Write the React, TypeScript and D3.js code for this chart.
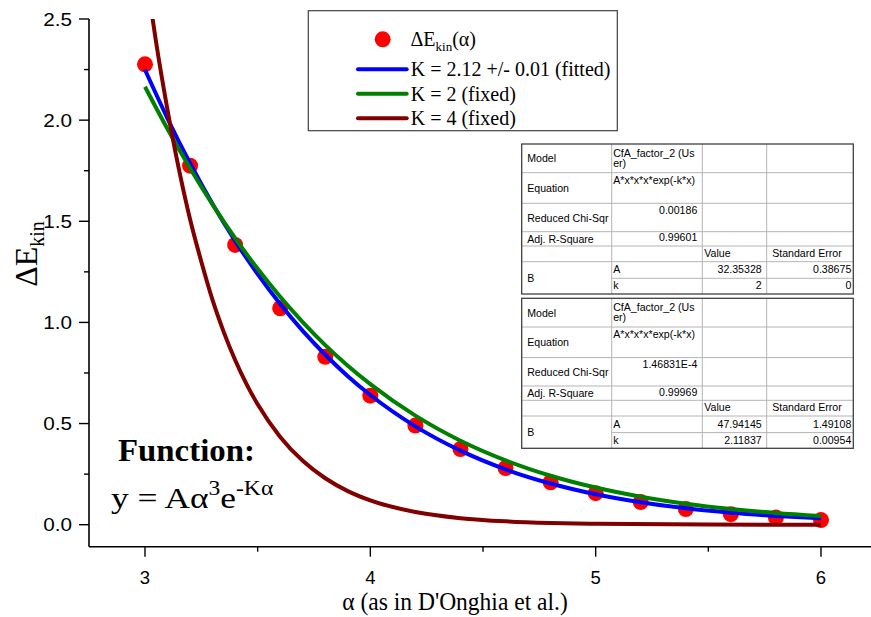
import React from "react";
import * as d3 from "d3";

// ---- data ----
const alphaPts = [3.0, 3.2, 3.4, 3.6, 3.8, 4.0, 4.2, 4.4, 4.6, 4.8, 5.0, 5.2, 5.4, 5.6, 5.8, 6.0];
const dEkin = [2.276, 1.775, 1.383, 1.07, 0.83, 0.638, 0.49, 0.374, 0.28, 0.21, 0.156, 0.112, 0.077, 0.052, 0.035, 0.023];

const curveX = [3.0, 3.1, 3.2, 3.3, 3.4, 3.5, 3.6, 3.7, 3.8, 3.9, 4.0, 4.2, 4.4, 4.6, 4.8, 5.0, 5.2, 5.4, 5.6, 5.8, 6.0];
const fitBlue = [2.249, 2.008, 1.787, 1.586, 1.403, 1.239, 1.091, 0.958, 0.84, 0.734, 0.641, 0.486, 0.366, 0.2735, 0.2035, 0.1505, 0.1109, 0.0813, 0.0593, 0.0432, 0.0313];
const fitGreen = [2.165, 1.956, 1.762, 1.582, 1.416, 1.265, 1.127, 1.002, 0.888, 0.786, 0.695, 0.539, 0.415, 0.318, 0.242, 0.1836, 0.1384, 0.1039, 0.0777, 0.0579, 0.0429];
const redX = [3.0, 3.05, 3.1, 3.15, 3.2, 3.25, 3.3, 3.35, 3.4, 3.45, 3.5, 3.6, 3.7, 3.8, 3.9, 4.0, 4.2, 4.4, 4.6, 4.8, 5.0, 5.5, 6.0];
const fitRed = [2.77, 2.38, 2.05, 1.76, 1.51, 1.3, 1.11, 0.951, 0.814, 0.696, 0.595, 0.434, 0.316, 0.2295, 0.166, 0.12, 0.0626, 0.0323, 0.0166, 0.0085, 0.0043, 0.0007, 0.0001];

const xMajorTicks = [3, 4, 5, 6];
const xMinorTicks = [3.5, 4.5, 5.5];
const yMajorTicks = [0, 0.5, 1.0, 1.5, 2.0, 2.5];
const yMinorTicks = [0.25, 0.75, 1.25, 1.75, 2.25];

const legendLabels = ["K = 2.12 +/- 0.01 (fitted)", "K = 2 (fixed)", "K = 4 (fixed)"];
const legendColors = ["#0000ff", "#008000", "#800000"];

const tableModelLines = ["CfA_factor_2 (Us", "er)"];
const tableEquation = "A*x*x*x*exp(-k*x)";
const tableChiSqr = ["0.00186", "1.46831E-4"];
const tableAdjR2 = ["0.99601", "0.99969"];
const tableAValue = ["32.35328", "47.94145"];
const tableAError = ["0.38675", "1.49108"];
const tableKValue = ["2", "2.11837"];
const tableKError = ["0", "0.00954"];

// ---- layout ----
const W = 871;
const H = 617;
const x = d3.scaleLinear().domain([3, 6]).range([145, 821]);
const y = d3.scaleLinear().domain([0, 2.5]).range([524.7, 19]);
const axisLeftX = 89;
const axisBottomY = 546.7;

const serif = "'Liberation Serif', 'Times New Roman', serif";
const sans = "'Liberation Sans', Arial, sans-serif";

function T({ x: tx, y: ty, sx = 1, children, ...rest }: any) {
  return (
    <text transform={`translate(${tx},${ty}) scale(${sx},1)`} {...rest}>
      {children}
    </text>
  );
}

function FitTable({ top, idx }: { top: number; idx: number }) {
  const cols = [521.7, 611.7, 702.3, 766.7, 853.3];
  const rows = [0, 28.7, 59.3, 87.7, 102, 117.7, 134.3, 150].map((r) => top + r);
  const fs = 10.6;
  const grid = "#b4b4b4";
  const lines: any[] = [];
  for (let i = 1; i < rows.length - 1; i++) {
    const x0 = i === 6 ? cols[1] : cols[0];
    lines.push(<line key={"h" + i} x1={x0} x2={cols[4]} y1={rows[i]} y2={rows[i]} stroke={grid} strokeWidth={1} />);
  }
  for (let j = 1; j < cols.length - 1; j++) {
    lines.push(<line key={"v" + j} x1={cols[j]} x2={cols[j]} y1={rows[0]} y2={rows[7]} stroke={grid} strokeWidth={1} />);
  }
  const mid = (a: number, b: number) => (rows[a] + rows[b]) / 2 + 4;
  const tl = cols[0] + 5.5;
  const c2 = cols[1] + 1.5;
  const r2 = cols[2] - 5;
  const r4 = cols[4] - 2;
  const txt = { fontFamily: sans, fontSize: fs, fill: "#000" } as any;
  return (
    <g>
      <rect x={cols[0]} y={rows[0]} width={cols[4] - cols[0]} height={rows[7] - rows[0]} fill="#fff" />
      {lines}
      <rect x={cols[0]} y={rows[0]} width={cols[4] - cols[0]} height={rows[7] - rows[0]} fill="none" stroke="#404040" strokeWidth={1.3} />
      <text x={tl} y={mid(0, 1)} {...txt}>Model</text>
      <text x={c2} y={rows[0] + 12.5} {...txt}>{tableModelLines[0]}</text>
      <text x={c2} y={rows[0] + 23} {...txt}>{tableModelLines[1]}</text>
      <text x={tl} y={mid(1, 2)} {...txt}>Equation</text>
      <text x={c2} y={rows[1] + 11.3} {...txt}>{tableEquation}</text>
      <text x={tl} y={mid(2, 3)} {...txt}>Reduced Chi-Sqr</text>
      <text x={r2} y={rows[2] + 10.5} textAnchor="end" {...txt}>{tableChiSqr[idx]}</text>
      <text x={tl} y={mid(3, 4)} {...txt}>Adj. R-Square</text>
      <text x={r2} y={rows[3] + 9.5} textAnchor="end" {...txt}>{tableAdjR2[idx]}</text>
      <text x={cols[2] + 2} y={rows[4] + 11} {...txt}>Value</text>
      <text x={cols[3] + 5.5} y={rows[4] + 11} {...txt}>Standard Error</text>
      <text x={tl} y={mid(5, 7)} {...txt}>B</text>
      <text x={c2} y={rows[5] + 11.5} {...txt}>A</text>
      <text x={c2} y={rows[6] + 11} {...txt}>k</text>
      <text x={cols[3] - 5} y={rows[5] + 11.5} textAnchor="end" {...txt}>{tableAValue[idx]}</text>
      <text x={r4} y={rows[5] + 11.5} textAnchor="end" {...txt}>{tableAError[idx]}</text>
      <text x={cols[3] - 5} y={rows[6] + 11} textAnchor="end" {...txt}>{tableKValue[idx]}</text>
      <text x={r4} y={rows[6] + 11} textAnchor="end" {...txt}>{tableKError[idx]}</text>
    </g>
  );
}

export default function App() {
  const line = d3
    .line<[number, number]>()
    .x((d) => x(d[0]))
    .y((d) => y(d[1]))
    .curve(d3.curveMonotoneX);
  const bluePath = line(curveX.map((a, i) => [a, fitBlue[i]]))!;
  const greenPath = line(curveX.map((a, i) => [a, fitGreen[i]]))!;
  const redPath = line(redX.map((a, i) => [a, fitRed[i]]))!;
  const lw = 4;

  return (
    <svg width={W} height={H} style={{ position: "absolute", left: 0, top: 0, background: "#fff" }}>
      <defs>
        <clipPath id="plotClip">
          <rect x={axisLeftX} y={y(2.5)} width={W - axisLeftX} height={axisBottomY - y(2.5)} />
        </clipPath>
      </defs>
      <rect x={0} y={0} width={W} height={H} fill="#fff" />

      {/* data points */}
      <g clipPath="url(#plotClip)">
        {alphaPts.map((a, i) => (
          <circle key={i} cx={x(a)} cy={y(dEkin[i])} r={8} fill="#ff0000" />
        ))}
        <path d={bluePath} fill="none" stroke={legendColors[0]} strokeWidth={lw} />
        <path d={greenPath} fill="none" stroke={legendColors[1]} strokeWidth={lw} />
        <path d={redPath} fill="none" stroke={legendColors[2]} strokeWidth={lw} />
      </g>

      {/* axes */}
      <line x1={axisLeftX} x2={axisLeftX} y1={y(2.5)} y2={axisBottomY} stroke="#000" strokeWidth={1.6} />
      <line x1={axisLeftX} x2={W} y1={axisBottomY} y2={axisBottomY} stroke="#000" strokeWidth={1.6} />
      {yMajorTicks.map((t) => (
        <g key={"ym" + t}>
          <line x1={axisLeftX - 10} x2={axisLeftX} y1={y(t)} y2={y(t)} stroke="#000" strokeWidth={1.4} />
          <T x={72} y={y(t) + 6.6} sx={1.12} textAnchor="end" fontFamily={sans} fontSize={18.5} fill="#000">
            {t.toFixed(1)}
          </T>
        </g>
      ))}
      {yMinorTicks.map((t) => (
        <line key={"yn" + t} x1={axisLeftX - 5} x2={axisLeftX} y1={y(t)} y2={y(t)} stroke="#000" strokeWidth={1.4} />
      ))}
      {xMajorTicks.map((t) => (
        <g key={"xm" + t}>
          <line x1={x(t)} x2={x(t)} y1={axisBottomY} y2={axisBottomY + 10} stroke="#000" strokeWidth={1.4} />
          <T x={x(t)} y={584} sx={1.0} textAnchor="middle" fontFamily={sans} fontSize={18.5} fill="#000">
            {String(t)}
          </T>
        </g>
      ))}
      {xMinorTicks.map((t) => (
        <line key={"xn" + t} x1={x(t)} x2={x(t)} y1={axisBottomY} y2={axisBottomY + 5} stroke="#000" strokeWidth={1.4} />
      ))}

      {/* axis titles */}
      <T x={455} y={610} sx={0.96} textAnchor="middle" fontFamily={serif} fontSize={24.5} fill="#000">
        α (as in D'Onghia et al.)
      </T>
      <text transform="translate(37,254) rotate(-90)" textAnchor="middle" fontFamily={serif} fontSize={32} fill="#000">
        ΔE<tspan fontSize={20} dy={7}>kin</tspan>
      </text>

      {/* function annotation */}
      <T x={118} y={461} sx={1.06} fontFamily={serif} fontSize={31} fontWeight="bold" fill="#000">
        Function:
      </T>
      <T x={111} y={508} sx={1.18} fontFamily={serif} fontSize={30} fill="#000">
        y = Aα<tspan fontSize={20} dy={-13}>3</tspan>
        <tspan fontSize={30} dy={13}>e</tspan>
        <tspan fontSize={20} dy={-13}>-Kα</tspan>
      </T>

      {/* legend */}
      <rect x={308.3} y={10.7} width={309} height={120} fill="#fff" stroke="#404040" strokeWidth={1.2} />
      <circle cx={382.7} cy={39.3} r={8} fill="#ff0000" />
      <text x={410.5} y={46} fontFamily={serif} fontSize={20} fill="#000">
        ΔE<tspan fontSize={13} dy={5}>kin</tspan>
        <tspan fontSize={20} dy={-5}>(α)</tspan>
      </text>
      {legendLabels.map((lab, i) => (
        <g key={lab}>
          <line x1={358} x2={406.7} y1={69.3 + i * 24.5} y2={69.3 + i * 24.5} stroke={legendColors[i]} strokeWidth={lw} strokeLinecap="round" />
          <text x={410.7} y={76 + i * 24.5} fontFamily={serif} fontSize={20} fill="#000">
            {lab}
          </text>
        </g>
      ))}

      {/* fit tables */}
      <FitTable top={144} idx={0} />
      <FitTable top={298.3} idx={1} />
    </svg>
  );
}
